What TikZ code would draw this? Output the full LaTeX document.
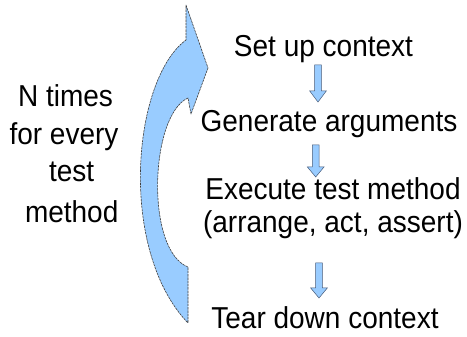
\documentclass[tikz,border=0pt]{standalone}
\usepackage{fontspec}
\usepackage{graphicx}
\setmainfont{Liberation Sans}
\definecolor{arrowfill}{RGB}{153,204,255}
\definecolor{arrowedge}{RGB}{70,90,120}
\newcommand\talltext[1]{\scalebox{1}[1.08]{#1}}
\begin{document}
\begin{tikzpicture}[x=1pt,y=-1pt,
  txt/.style={anchor=base,inner sep=0pt,font=\fontsize{28}{34}\selectfont},
  bigarrow/.style={fill=arrowfill,draw=black!75,line width=0.6pt,dash pattern=on 2.5pt off 0.8pt,line join=round},
  blockarrow/.style={fill=arrowfill,draw=arrowedge,line width=0.5pt,line join=miter}]
\useasboundingbox (0,0) rectangle (467,337);
% left text
\node[txt] (l1) at (65.5,106.7) {\talltext{N times}};
\node[txt] (l2) at (64,145) {\talltext{for every}};
\node[txt] (l3) at (71.7,181.7) {\talltext{test}};
\node[txt] (l4) at (71.7,223) {\talltext{method}};
% right text
\node[txt] (t1) at (323.5,56.7) {\talltext{Set up context}};
\node[txt] (t2) at (329,131.7) {\talltext{Generate arguments}};
\node[txt] (t3) at (333,200) {\talltext{Execute test method}};
\node[txt] (t4) at (333,233) {\talltext{(arrange, act, assert)}};
\node[txt] (t5) at (325,328.3) {\talltext{Tear down context}};
% big curved arrow
\draw[bigarrow] (186,5) -- (208,68) -- (191,114) -- (188,98)
  .. controls (150,115) and (145,250) .. (188,267) -- (188,323)
  .. controls (118,250) and (132,80) .. (186,40) -- cycle;
% small down arrows
\draw[blockarrow] (314.6,65) -- (321.4,65) -- (321.4,91) -- (326.3,91) -- (318,102) -- (309.7,91) -- (314.6,91) -- cycle;
\draw[blockarrow] (312.3,145) -- (319.1,145) -- (319.1,167) -- (324,167) -- (315.7,177) -- (307.4,167) -- (312.3,167) -- cycle;
\draw[blockarrow] (315.6,263) -- (322.4,263) -- (322.4,288) -- (327.3,288) -- (319,298) -- (310.7,288) -- (315.6,288) -- cycle;
\end{tikzpicture}
\end{document}
